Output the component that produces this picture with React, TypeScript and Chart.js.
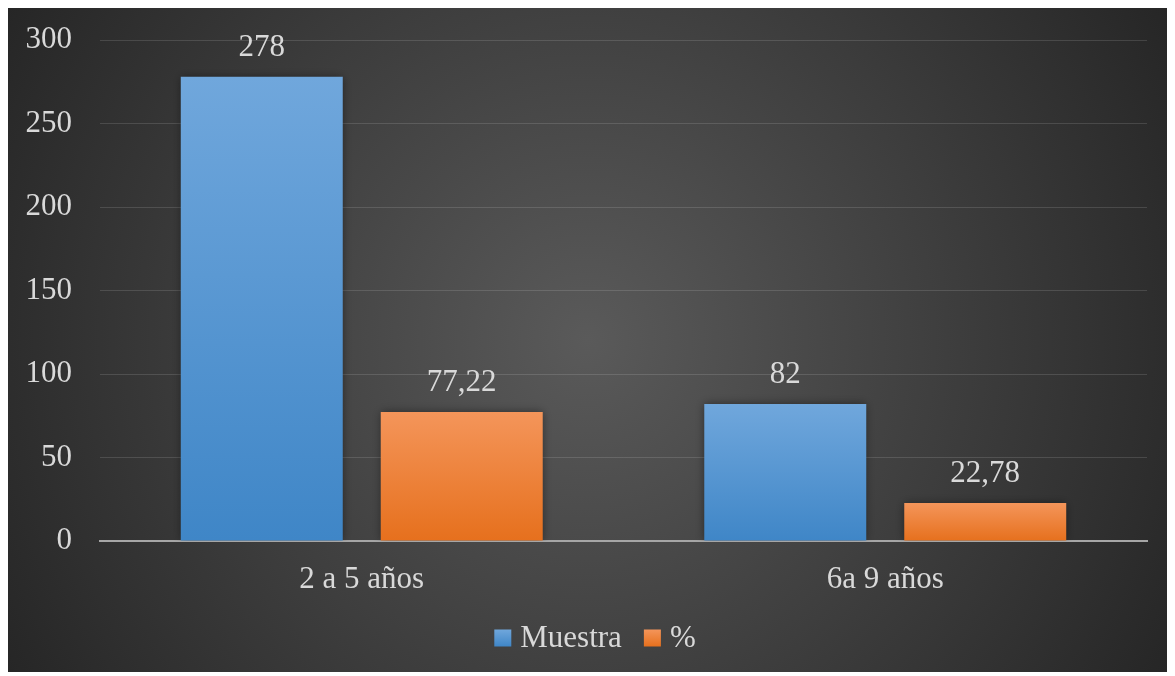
import React, { useEffect, useRef } from "react";
import { Chart, registerables } from "chart.js";

Chart.register(...registerables);

const categories = ["2 a 5 años", "6a 9 años"];
const muestra = [278, 82];
const porcentaje = [77.22, 22.78];
const seriesNames = ["Muestra", "%"];
const yTicks = { min: 0, max: 300, step: 50 };

const FONT = "'Liberation Serif', 'Times New Roman', serif";
const TEXT = "#d9d9d9";

function barGradient(ctx: any, top: string, bottom: string) {
  const chart = ctx.chart;
  const y = chart.scales?.y;
  if (!y || ctx.type !== "data") return top;
  const v = ctx.raw as number;
  const y0 = y.getPixelForValue(v);
  const y1 = y.getPixelForValue(0);
  if (!isFinite(y0) || !isFinite(y1) || y0 === y1) return top;
  const g = chart.ctx.createLinearGradient(0, y0, 0, y1);
  g.addColorStop(0, top);
  g.addColorStop(1, bottom);
  return g;
}

const bgPlugin = {
  id: "bgPlugin",
  beforeDraw(chart: any) {
    const { ctx, width, height } = chart;
    const cx = width / 2;
    const cy = height / 2;
    const r = Math.sqrt(cx * cx + cy * cy);
    const g = ctx.createRadialGradient(cx, cy, 0, cx, cy, r);
    g.addColorStop(0, "#5a5a5a");
    g.addColorStop(1, "#262626");
    ctx.save();
    ctx.fillStyle = g;
    ctx.fillRect(0, 0, width, height);
    ctx.restore();
  },
};

const shadowLabelPlugin = {
  id: "shadowLabelPlugin",
  beforeDatasetsDraw(chart: any) {
    const ctx = chart.ctx;
    ctx.save();
    ctx.shadowColor = "rgba(0,0,0,0.45)";
    ctx.shadowBlur = 9;
  },
  afterDatasetsDraw(chart: any) {
    const ctx = chart.ctx;
    ctx.restore();
    ctx.save();
    ctx.font = `31px ${FONT}`;
    ctx.fillStyle = TEXT;
    ctx.textAlign = "center";
    ctx.textBaseline = "middle";
    chart.data.datasets.forEach((ds: any, di: number) => {
      const meta = chart.getDatasetMeta(di);
      meta.data.forEach((el: any, i: number) => {
        const txt = String(ds.data[i]).replace(".", ",");
        ctx.fillText(txt, el.x, el.y - 29);
      });
    });
    ctx.restore();
  },
};

const legendPlugin = {
  id: "customLegend",
  afterDraw(chart: any) {
    const ctx = chart.ctx;
    ctx.save();
    ctx.font = `31px ${FONT}`;
    const box = 17;
    const gapText = 9;
    const gapItem = 22;
    const widths = seriesNames.map((n) => ctx.measureText(n).width);
    const total =
      widths.reduce((a, w) => a + box + gapText + w, 0) + gapItem * (seriesNames.length - 1);
    let x = 587 - total / 2;
    const cy = 630;
    ctx.textBaseline = "middle";
    ctx.textAlign = "left";
    seriesNames.forEach((n, i) => {
      const g = ctx.createLinearGradient(0, cy - box / 2, 0, cy + box / 2);
      g.addColorStop(0, i === 0 ? "#70a7dc" : "#f4955a");
      g.addColorStop(1, i === 0 ? "#3f86c7" : "#e6701d");
      ctx.fillStyle = g;
      ctx.fillRect(x, cy - box / 2, box, box);
      x += box + gapText;
      ctx.fillStyle = TEXT;
      ctx.fillText(n, x, cy + 1);
      x += widths[i] + gapItem;
    });
    ctx.restore();
  },
};

export default function App() {
  const ref = useRef<HTMLCanvasElement>(null);
  useEffect(() => {
    if (!ref.current) return;
    const chart = new Chart(ref.current, {
      type: "bar",
      data: {
        labels: categories,
        datasets: [
          {
            label: seriesNames[0],
            data: muestra,
            backgroundColor: (c: any) => barGradient(c, "#70a7dc", "#3f86c7"),
            borderWidth: 0,
            categoryPercentage: 0.764,
            barPercentage: 0.81,
          },
          {
            label: seriesNames[1],
            data: porcentaje,
            backgroundColor: (c: any) => barGradient(c, "#f4955a", "#e6701d"),
            borderWidth: 0,
            categoryPercentage: 0.764,
            barPercentage: 0.81,
          },
        ],
      },
      options: {
        responsive: false,
        animation: false,
        layout: { padding: { top: 32, right: 20, bottom: 71, left: 0 } },
        plugins: {
          tooltip: { enabled: false },
          legend: { display: false },
        },
        scales: {
          x: {
            grid: { display: false, drawTicks: false },
            border: { display: true, color: "#a6a6a6", width: 2 },
            ticks: { color: TEXT, font: { family: FONT, size: 31 }, padding: 20 },
            afterFit: (s: any) => {
              s.height = 60;
            },
          },
          y: {
            min: yTicks.min,
            max: yTicks.max,
            grid: { color: "rgba(255,255,255,0.13)", lineWidth: 1, drawTicks: false },
            border: { display: false },
            ticks: {
              stepSize: yTicks.step,
              color: TEXT,
              font: { family: FONT, size: 31, lineHeight: 1 },
              padding: 28,
            },
            afterFit: (s: any) => {
              s.width = 92;
              s.paddingTop = 0;
            },
          },
        },
      },
      plugins: [bgPlugin, shadowLabelPlugin, legendPlugin],
    } as any);
    return () => chart.destroy();
  }, []);
  return (
    <div style={{ width: 1159, height: 664 }}>
      <canvas ref={ref} width={1159} height={664} style={{ display: "block" }} />
    </div>
  );
}
